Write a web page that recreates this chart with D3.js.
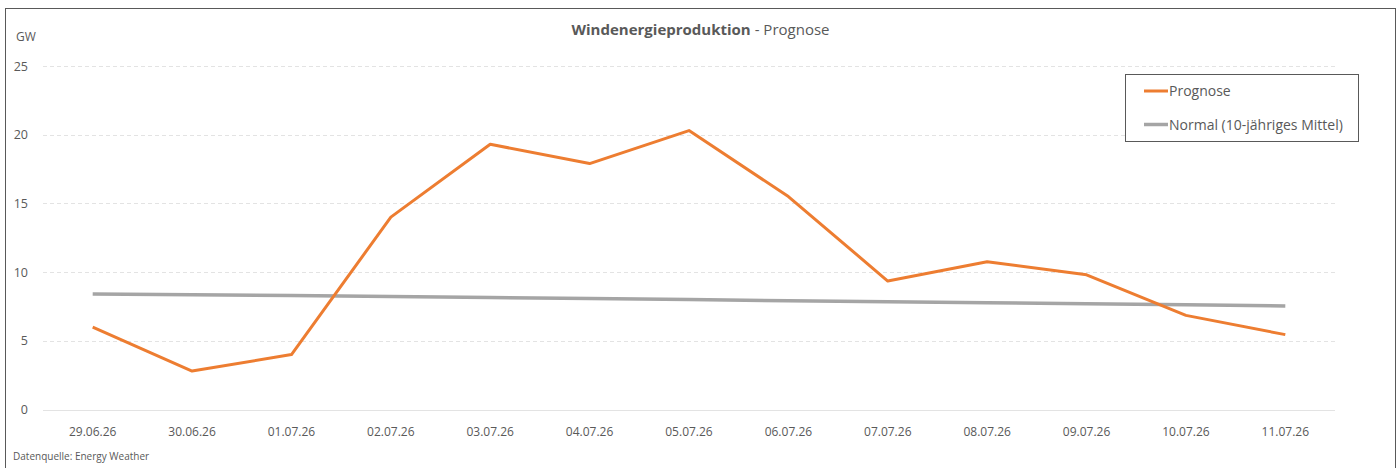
<!DOCTYPE html>
<html>
<head>
<meta charset="utf-8">
<script src="https://cdn.jsdelivr.net/npm/d3@7"></script>
<style>
  body { margin: 0; background: #fff; }
  svg text { font-family: "Open Sans", sans-serif; fill: #595959; }
</style>
</head>
<body>
<svg id="chart" width="1400" height="468"></svg>
<script>
/* global d3 */

var dates = ['29.06.26', '30.06.26', '01.07.26', '02.07.26', '03.07.26', '04.07.26', '05.07.26',
  '06.07.26', '07.07.26', '08.07.26', '09.07.26', '10.07.26', '11.07.26'];
var prognose = [6.0, 2.8, 4.0, 14.0, 19.3, 17.9, 20.3, 15.5, 9.35, 10.75, 9.8, 6.85, 5.45];
var normal = [8.4, 8.35, 8.3, 8.22, 8.15, 8.07, 8.0, 7.92, 7.85, 7.77, 7.7, 7.62, 7.53];
var yTicks = [0, 5, 10, 15, 20, 25];

var svg = d3.select('#chart');

// outer frame
svg.append('rect')
  .attr('x', 5.5).attr('y', 8.5)
  .attr('width', 1390).attr('height', 470)
  .attr('fill', 'none').attr('stroke', '#595959');

var x = d3.scaleBand().domain(dates).range([43, 1335]);
var y = d3.scaleLinear().domain([0, 25]).range([409.5, 66]);

// gridlines
svg.append('g').selectAll('line')
  .data(yTicks).enter()
  .append('line')
  .attr('x1', 43).attr('x2', 1335)
  .attr('y1', d => Math.round(y(d)) + 0.5).attr('y2', d => Math.round(y(d)) + 0.5)
  .attr('stroke', '#e3e3e3')
  .attr('stroke-dasharray', d => d === 0 ? null : '4,3');

// y tick labels
svg.append('g').selectAll('text')
  .data(yTicks).enter()
  .append('text')
  .attr('x', 28).attr('y', d => y(d) + 4.5)
  .attr('text-anchor', 'end')
  .style('font-size', '12.5px')
  .text(d => d);

svg.append('text')
  .attr('x', 16).attr('y', 41)
  .style('font-size', '12px')
  .text('GW');

// x tick labels
svg.append('g').selectAll('text')
  .data(dates).enter()
  .append('text')
  .attr('x', d => x(d) + x.bandwidth() / 2).attr('y', 436)
  .attr('text-anchor', 'middle')
  .style('font-size', '12px')
  .text(d => d);

var line = d3.line()
  .x((d, i) => x(dates[i]) + x.bandwidth() / 2)
  .y(d => y(d));

svg.append('path')
  .datum(normal)
  .attr('d', line)
  .attr('fill', 'none').attr('stroke', '#a5a5a5')
  .attr('stroke-width', 3.5);

svg.append('path')
  .datum(prognose)
  .attr('d', line)
  .attr('fill', 'none').attr('stroke', '#ed7d31')
  .attr('stroke-width', 3)
  .attr('stroke-linejoin', 'round');

// title
var title = svg.append('text')
  .attr('x', 700.5).attr('y', 35)
  .attr('text-anchor', 'middle')
  .style('font-size', '15px');
title.append('tspan').style('font-weight', 'bold').text('Windenergieproduktion');
title.append('tspan').text(' - Prognose');

// legend
var legend = svg.append('g');
legend.append('rect')
  .attr('x', 1125.5).attr('y', 74.5)
  .attr('width', 233).attr('height', 67)
  .attr('fill', '#fff').attr('stroke', '#595959');

var legendItems = [
  { name: 'Prognose', color: '#ed7d31', w: 3 },
  { name: 'Normal (10-jähriges Mittel)', color: '#a5a5a5', w: 3.5 }
];
var entry = legend.selectAll('g.entry')
  .data(legendItems).enter()
  .append('g').attr('class', 'entry')
  .attr('transform', (d, i) => `translate(1144,${91 + i * 33.5})`);
entry.append('line')
  .attr('x1', 0).attr('x2', 24)
  .attr('stroke', d => d.color).attr('stroke-width', d => d.w);
entry.append('text')
  .attr('x', 25).attr('y', 5)
  .style('font-size', '14px')
  .text(d => d.name);

// source
svg.append('text')
  .attr('x', 13).attr('y', 460)
  .style('font-size', '10px')
  .text('Datenquelle: Energy Weather');
</script>
</body>
</html>
